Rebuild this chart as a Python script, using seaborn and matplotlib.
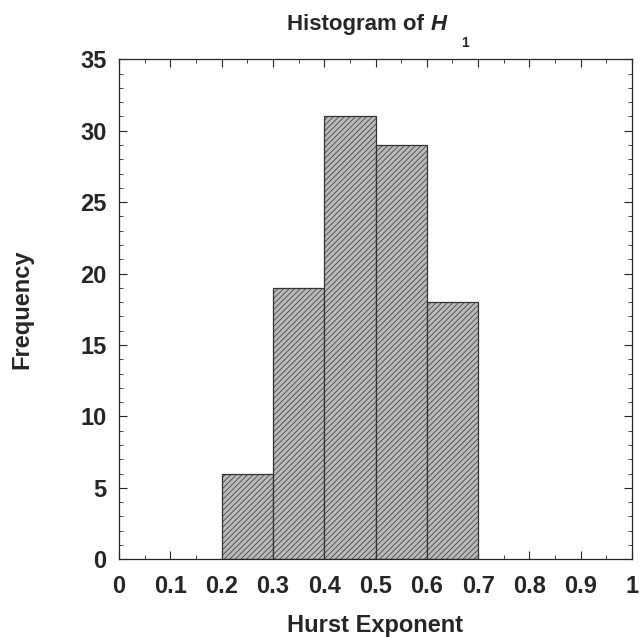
import numpy as np
import pandas as pd
import matplotlib
matplotlib.use('Agg')
import matplotlib.pyplot as plt
import seaborn as sns
from matplotlib.ticker import MultipleLocator

# dados do histograma
bordas = [0.2, 0.3, 0.4, 0.5, 0.6, 0.7]
centros = [0.25, 0.35, 0.45, 0.55, 0.65]
frequencias = [6, 19, 31, 29, 18]
ticks_x = [0, 0.1, 0.2, 0.3, 0.4, 0.5, 0.6, 0.7, 0.8, 0.9, 1]
rotulos_x = ['0', '0.1', '0.2', '0.3', '0.4', '0.5', '0.6', '0.7', '0.8', '0.9', '1']

df = pd.DataFrame({'hurst': centros, 'freq': frequencias})

sns.set_style('ticks')
plt.rcParams['font.family'] = ['Liberation Sans', 'DejaVu Sans']
plt.rcParams['font.weight'] = 'bold'
plt.rcParams['hatch.linewidth'] = 0.5

fig = plt.figure(figsize=(6.43, 6.37), dpi=100)
ax = fig.add_axes([0.185, 0.122, 0.798, 0.785])

sns.histplot(data=df, x='hurst', weights='freq', bins=bordas, ax=ax,
             color='#b9b9b9', edgecolor='#333333', linewidth=0.9, alpha=1)
for p in ax.patches:
    p.set_hatch('//////')

ax.set_xlim(0, 1)
ax.set_ylim(0, 35)
ax.set_xticks(ticks_x)
ax.set_xticklabels(rotulos_x)
ax.yaxis.set_major_locator(MultipleLocator(5))
ax.xaxis.set_minor_locator(MultipleLocator(0.05))
ax.yaxis.set_minor_locator(MultipleLocator(1))
ax.tick_params(which='both', direction='in', top=True, right=True, labelsize=17)
ax.tick_params(axis='x', pad=11)
ax.tick_params(axis='y', pad=9)
ax.tick_params(which='major', length=6)
ax.tick_params(which='minor', length=3)
for s in ax.spines.values():
    s.set_linewidth(0.9)

# titulo com H italico e subscrito bem abaixo, como no original
fig.text(0.669, 0.962, 'Histogram of ', fontsize=16, fontweight='bold',
         ha='right', va='center')
fig.text(0.669, 0.962, 'H', fontsize=16, fontweight='bold', style='italic',
         ha='left', va='center')
fig.text(0.723, 0.932, '1', fontsize=10, fontweight='bold',
         ha='center', va='center')

ax.set_xlabel('Hurst Exponent', fontsize=17, fontweight='bold', va='center')
ax.xaxis.set_label_coords(0.5, -0.132)
ax.set_ylabel('Frequency', fontsize=17, fontweight='bold', va='center')
ax.yaxis.set_label_coords(-0.189, 0.5)

fig.savefig('out.png', dpi=100)
